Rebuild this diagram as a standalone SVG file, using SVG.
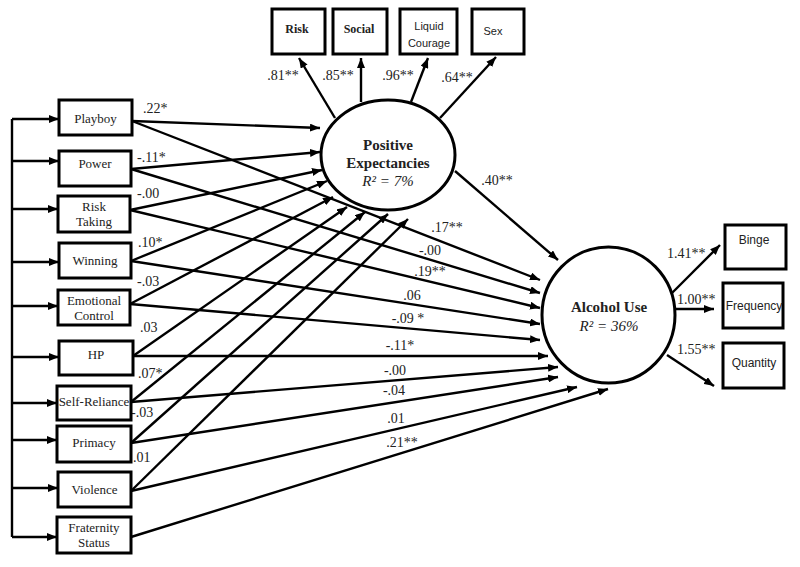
<svg xmlns="http://www.w3.org/2000/svg" width="800" height="567" viewBox="0 0 800 567">
<defs>
<marker id="ah" markerUnits="userSpaceOnUse" markerWidth="10" markerHeight="8" refX="10" refY="4" orient="auto">
<path d="M0,0 L10,4 L0,8 z" fill="#000"/>
</marker>
<style>
.box{fill:#fff;stroke:#000;stroke-width:3}
.ell{fill:#fff;stroke:#000;stroke-width:3}
.ln{fill:none;stroke:#000;stroke-width:2.4;marker-end:url(#ah)}
.br{fill:none;stroke:#000;stroke-width:2.4}
.lab{font-family:"Liberation Serif","Times New Roman",serif;font-size:13px;fill:#222;text-anchor:middle}
.bs{font-family:"Liberation Serif","Times New Roman",serif;font-size:12px;font-weight:bold;fill:#222;text-anchor:middle}
.ss{font-family:"Liberation Sans",Arial,sans-serif;font-size:11px;fill:#222;text-anchor:middle}
.sr{font-family:"Liberation Sans",Arial,sans-serif;font-size:12px;fill:#222;text-anchor:middle}
.co{font-family:"Liberation Serif","Times New Roman",serif;font-size:14px;fill:#222}
.cm{font-family:"Liberation Serif","Times New Roman",serif;font-size:14px;fill:#222;text-anchor:middle}
.big{font-family:"Liberation Serif","Times New Roman",serif;font-size:15px;font-weight:bold;fill:#222;text-anchor:middle}
.r2{font-family:"Liberation Serif","Times New Roman",serif;font-size:15px;font-style:italic;fill:#222;text-anchor:middle}
</style>
</defs>
<rect width="800" height="567" fill="#fff"/>

<g id="connectors">
<path class="br" d="M12,119 V537"/>
<path class="ln" d="M12,119 H59"/>
<path class="ln" d="M12,161 H59"/>
<path class="ln" d="M12,209 H58"/>
<path class="ln" d="M12,262 H59"/>
<path class="ln" d="M12,306 H58"/>
<path class="ln" d="M12,357 H59"/>
<path class="ln" d="M12,403 H57"/>
<path class="ln" d="M12,440 H57"/>
<path class="ln" d="M12,488 H58"/>
<path class="ln" d="M12,537 H57"/>

<path class="ln" d="M132,121 L320,128"/>
<path class="ln" d="M132,121 L540,280"/>
<path class="ln" d="M131,169 L320,152"/>
<path class="ln" d="M131,169 L540,293"/>
<path class="ln" d="M130,210 L322,170"/>
<path class="ln" d="M130,210 L540,308"/>
<path class="ln" d="M131,261 L327,181"/>
<path class="ln" d="M131,261 L540,324"/>
<path class="ln" d="M130,304 L333,197"/>
<path class="ln" d="M130,304 L540,340"/>
<path class="ln" d="M133,356 L347,207"/>
<path class="ln" d="M133,356 L548,356"/>
<path class="ln" d="M131,402 L365,212"/>
<path class="ln" d="M131,402 L558,367"/>
<path class="ln" d="M131,443 L388,214"/>
<path class="ln" d="M131,443 L558,377"/>
<path class="ln" d="M131,491 L408,219"/>
<path class="ln" d="M131,491 L577,387"/>
<path class="ln" d="M131,537 L608,389"/>

<path class="ln" d="M335,118 L299,58"/>
<path class="ln" d="M361,102 L361,58"/>
<path class="ln" d="M411,102 L428,58"/>
<path class="ln" d="M440,118 L496,57"/>

<path class="ln" d="M455,171 L558,260"/>

<path class="ln" d="M672,293 L720,245"/>
<path class="ln" d="M675,309 L714,309"/>
<path class="ln" d="M667,355 L714,386"/>

<text class="co" x="143" y="113">.22*</text>
<text class="co" x="137" y="162">-.11*</text>
<text class="co" x="137" y="198">-.00</text>
<text class="co" x="138" y="247">.10*</text>
<text class="co" x="137" y="286">-.03</text>
<text class="co" x="140" y="332">.03</text>
<text class="co" x="138" y="378">.07*</text>
<text class="co" x="131" y="417">-.03</text>
<text class="co" x="133" y="462">.01</text>

<text class="cm" x="447" y="232">.17**</text>
<text class="cm" x="430" y="255">-.00</text>
<text class="cm" x="430" y="276">.19**</text>
<text class="cm" x="412" y="300">.06</text>
<text class="cm" x="408" y="323">-.09 *</text>
<text class="cm" x="400" y="350">-.11*</text>
<text class="cm" x="395" y="375">-.00</text>
<text class="cm" x="394" y="395">-.04</text>
<text class="cm" x="396" y="423">.01</text>
<text class="cm" x="402" y="447">.21**</text>

<text class="cm" x="497" y="185">.40**</text>

<text class="cm" x="283" y="80">.81**</text>
<text class="cm" x="338" y="80">.85**</text>
<text class="cm" x="398" y="80">.96**</text>
<text class="cm" x="457" y="82">.64**</text>

<text class="co" x="667" y="258">1.41**</text>
<text class="co" x="677" y="304">1.00**</text>
<text class="co" x="677" y="354">1.55**</text>
</g>

<g id="playboy"><rect class="box" x="59" y="100" width="73" height="35"/><text class="lab" x="95.5" y="123">Playboy</text></g>
<g id="power"><rect class="box" x="59" y="151" width="72" height="35"/><text class="lab" x="95" y="168">Power</text></g>
<g id="risk-taking"><rect class="box" x="58" y="196" width="72" height="36"/><text class="lab" x="94" y="211">Risk</text><text class="lab" x="94" y="226">Taking</text></g>
<g id="winning"><rect class="box" x="59" y="243" width="72" height="35"/><text class="lab" x="95" y="265">Winning</text></g>
<g id="emotional-control"><rect class="box" x="58" y="290" width="72" height="35"/><text class="lab" x="94" y="305">Emotional</text><text class="lab" x="94" y="320">Control</text></g>
<g id="hp"><rect class="box" x="59" y="341" width="74" height="34"/><text class="lab" x="96" y="359">HP</text></g>
<g id="self-reliance"><rect class="box" x="57" y="386" width="74" height="34"/><text class="lab" x="94" y="406">Self-Reliance</text></g>
<g id="primacy"><rect class="box" x="57" y="426" width="74" height="36"/><text class="lab" x="94" y="447">Primacy</text></g>
<g id="violence"><rect class="box" x="58" y="472" width="73" height="35"/><text class="lab" x="94.5" y="494">Violence</text></g>
<g id="fraternity-status"><rect class="box" x="57" y="517" width="74" height="36"/><text class="lab" x="94" y="532">Fraternity</text><text class="lab" x="94" y="547">Status</text></g>

<g id="risk"><rect class="box" x="272" y="9" width="53" height="45"/><text class="bs" x="297" y="33">Risk</text></g>
<g id="social"><rect class="box" x="333" y="9" width="54" height="45"/><text class="bs" x="359" y="33">Social</text></g>
<g id="liquid-courage"><rect class="box" x="400" y="9" width="57" height="45"/><text class="ss" x="429" y="30">Liquid</text><text class="ss" x="429" y="47">Courage</text></g>
<g id="sex"><rect class="box" x="472" y="9" width="52" height="45"/><text class="ss" x="493" y="35">Sex</text></g>

<g id="positive-expectancies"><ellipse class="ell" cx="388" cy="155" rx="67" ry="55"/><text class="big" x="388" y="150">Positive</text><text class="big" x="388" y="168">Expectancies</text><text class="r2" x="388" y="186">R² = 7%</text></g>

<g id="alcohol-use"><ellipse class="ell" cx="608.5" cy="315" rx="66.5" ry="68"/><text class="big" x="609" y="312">Alcohol Use</text><text class="r2" x="609" y="331">R² = 36%</text></g>

<g id="binge"><rect class="box" x="725" y="225" width="61" height="44"/><text class="sr" x="754" y="244">Binge</text></g>
<g id="frequency"><rect class="box" x="723" y="283" width="60" height="45"/><text class="sr" x="754" y="310">Frequency</text></g>
<g id="quantity"><rect class="box" x="723" y="343" width="61" height="45"/><text class="sr" x="754" y="367">Quantity</text></g>
</svg>
